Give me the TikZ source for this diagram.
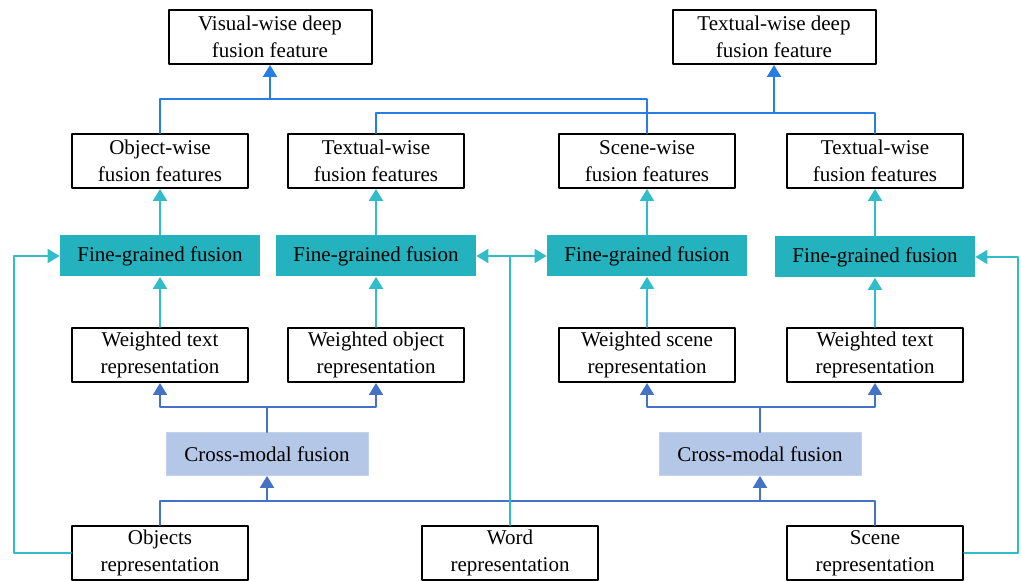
\documentclass[tikz,border=0pt]{standalone}
\usepackage{fontspec}
\setmainfont{Liberation Serif}
\usetikzlibrary{arrows.meta}
\definecolor{finecol}{RGB}{36,178,190}
\definecolor{cyanl}{RGB}{48,188,200}
\definecolor{topblue}{RGB}{38,126,228}
\definecolor{midblue}{RGB}{68,114,196}
\definecolor{crosscol}{RGB}{180,199,231}
\tikzset{
	feat/.style={draw=black, line width=1pt, fill=white, align=center, inner sep=0pt,
		minimum width=88pt, minimum height=27pt, font=\fontsize{10.5}{13.5}\selectfont},
	deepfeat/.style={feat, minimum width=101.5pt},
	fine/.style={fill=finecol, inner sep=0pt, minimum width=100pt, minimum height=20.5pt,
		font=\fontsize{10.5}{13.5}\selectfont},
	cross/.style={fill=crosscol, draw=crosscol!80!white, inner sep=0pt, minimum width=101pt,
		minimum height=21.5pt, font=\fontsize{10.5}{13.5}\selectfont},
	tline/.style={topblue, line width=1.1pt},
	cline/.style={cyanl, line width=1pt},
	mline/.style={midblue, line width=1pt}
}
\begin{document}
\begin{tikzpicture}[line cap=round,line join=round,>={Triangle[length=6pt,width=7pt]},x=0.5pt,y=-0.5pt]
		\useasboundingbox (0,0) rectangle (1021,581);
		%deep fusion
		\node[deepfeat] (vdeep) at (270,37) {Visual-wise deep\\fusion feature};
		\node[deepfeat] (tdeep) at (774,37) {Textual-wise deep\\fusion feature};
		%fusion features
		\node[feat] (objf) at (160,161) {Object-wise\\fusion features};
		\node[feat] (txtfa) at (376,161) {Textual-wise\\fusion features};
		\node[feat] (scnf) at (647,161) {Scene-wise\\fusion features};
		\node[feat] (txtfb) at (875,161) {Textual-wise\\fusion features};
		%fine-grained
		\node[fine] (fga) at (160,256) {Fine-grained fusion};
		\node[fine] (fgb) at (376,256) {Fine-grained fusion};
		\node[fine] (fgc) at (647,256) {Fine-grained fusion};
		\node[fine] (fgd) at (875,257) {Fine-grained fusion};
		%weighted
		\node[feat] (wtxta) at (160,355) {Weighted text\\representation};
		\node[feat] (wobj) at (376,355) {Weighted object\\representation};
		\node[feat] (wscn) at (647,355) {Weighted scene\\representation};
		\node[feat] (wtxtb) at (875,355) {Weighted text\\representation};
		%cross-modal
		\node[cross] (cma) at (267,454) {Cross-modal fusion};
		\node[cross] (cmb) at (760,454) {Cross-modal fusion};
		%inputs
		\node[feat] (objr) at (160,553) {Objects\\representation};
		\node[feat] (word) at (510,553) {Word\\representation};
		\node[feat] (scnr) at (875,553) {Scene\\representation};
		%top connections
		\coordinate (vj) at (270,99);
		\coordinate (tj) at (774,113);
		\draw[tline] (objf.north) |- (vj) -| (scnf.north);
		\draw[tline,->] (vj) -- (vdeep.south);
		\draw[tline] (txtfa.north) |- (tj) -| (txtfb.north);
		\draw[tline,->] (tj) -- (tdeep.south);
		%cross-modal to weighted
		\coordinate (ca) at (267,407);
		\coordinate (cb) at (760,407);
		\draw[mline] (cma.north) -- (ca);
		\draw[mline,->] (ca) -| (wtxta.south);
		\draw[mline,->] (ca) -| (wobj.south);
		\draw[mline] (cmb.north) -- (cb);
		\draw[mline,->] (cb) -| (wscn.south);
		\draw[mline,->] (cb) -| (wtxtb.south);
		%inputs to cross-modal
		\coordinate (ba) at (267,501);
		\coordinate (bb) at (760,501);
		\draw[mline] (objr.north) |- (ba) -- (bb) -| (scnr.north);
		\draw[mline,->] (ba) -- (cma.south);
		\draw[mline,->] (bb) -- (cmb.south);
		%fine-grained chain
		\foreach \w/\f/\t in {wtxta/fga/objf, wobj/fgb/txtfa, wscn/fgc/scnf, wtxtb/fgd/txtfb}{
			\draw[cline,->] (\w) -- (\f);
			\draw[cline,->] (\f) -- (\t);
		}
		%word and side inputs
		\coordinate (wj) at (510,256);
		\draw[cline] (word.north) -- (wj);
		\draw[cline,->] (wj) -- (fgb.east);
		\draw[cline,->] (wj) -- (fgc.west);
		\draw[cline,->] (objr.west) -- ++(-57,0) |- (fga.west);
		\draw[cline,->] (scnr.east) -- ++(54,0) |- (fgd.east);
		\end{tikzpicture}
\end{document}
